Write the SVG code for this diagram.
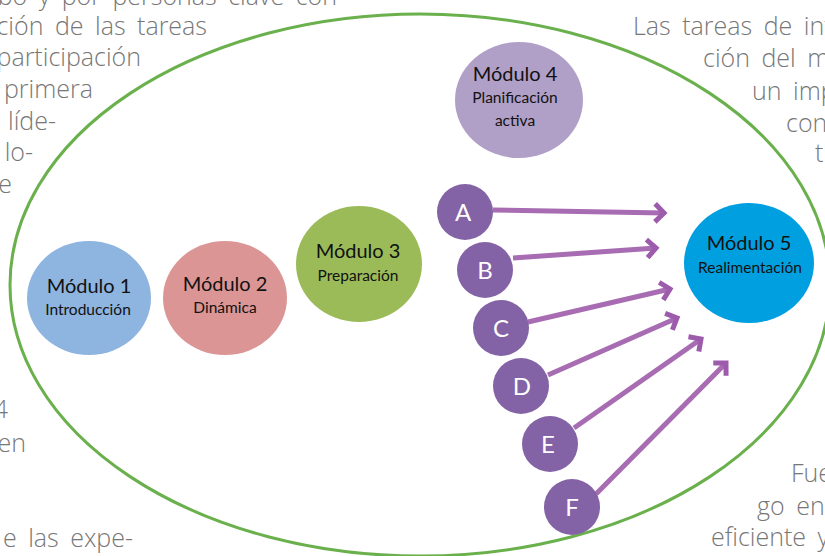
<svg xmlns="http://www.w3.org/2000/svg" width="825" height="556" viewBox="0 0 825 556">
<defs>
<style>
.bg{font-family:"Open Sans","Liberation Sans",sans-serif;font-weight:300;font-size:25px;fill:#777777;word-spacing:5px}
.t1{font-family:Lato,"Noto Sans",sans-serif;font-size:20px;fill:#111;text-anchor:middle}
.t2{font-family:Lato,"Noto Sans",sans-serif;font-size:15.5px;fill:#111;text-anchor:middle}
.lt{font-family:Lato,"Noto Sans",sans-serif;font-size:24px;fill:#fff;text-anchor:middle}
.let{fill:#8462a6}
.con{stroke:#a86cb2;stroke-width:5;fill:none;marker-end:url(#chev)}
</style>
<marker id="chev" markerUnits="userSpaceOnUse" viewBox="-14 -12 24 24" markerWidth="24" markerHeight="24" refX="0" refY="0" orient="auto">
<path d="M-9,-9 L0,0 L-9,9" fill="none" stroke="#9c5cab" stroke-width="5"/>
</marker>
</defs>
<rect width="825" height="556" fill="#ffffff"/>
<g id="background-text" class="bg">
<text x="337" y="5" text-anchor="end">bo y por personas clave con</text>
<text x="207" y="35" text-anchor="end">ción de las tareas</text>
<text x="141" y="66" text-anchor="end">participación</text>
<text x="93" y="98" text-anchor="end">primera</text>
<text x="56" y="130" text-anchor="end">líde-</text>
<text x="33" y="161" text-anchor="end">lo-</text>
<text x="12" y="193" text-anchor="end">e</text>
<text x="8" y="418" text-anchor="end">4</text>
<text x="26" y="452" text-anchor="end">en</text>
<text x="133" y="547" text-anchor="end">e las expe-</text>
<text x="633" y="35">Las tareas de int</text>
<text x="703" y="67">ción del m</text>
<text x="752" y="100">un imp</text>
<text x="786" y="132">con</text>
<text x="815" y="162">t</text>
<text x="791" y="482">Fue</text>
<text x="757" y="515">go en</text>
<text x="711" y="546">eficiente y</text>
</g>
<g id="frame">
<ellipse cx="420" cy="285" rx="410" ry="271" fill="none" stroke="#6ab04c" stroke-width="3"/>
</g>
<g id="connectors">
<line class="con" x1="493" y1="210" x2="664" y2="213"/>
<line class="con" x1="513" y1="258" x2="656" y2="248"/>
<line class="con" x1="528" y1="322" x2="670" y2="289"/>
<line class="con" x1="548" y1="375" x2="677" y2="318"/>
<line class="con" x1="574" y1="428" x2="701" y2="339"/>
<line class="con" x1="596" y1="494" x2="726" y2="363"/>
</g>
<g id="modulo1">
<ellipse cx="89" cy="298" rx="62" ry="57" fill="#8eb4e0"/>
<text class="t1" x="89" y="293">Módulo 1</text>
<text class="t2" x="88" y="315">Introducción</text>
</g>
<g id="modulo2">
<ellipse cx="225" cy="298" rx="62" ry="57" fill="#dc9595"/>
<text class="t1" x="225" y="291">Módulo 2</text>
<text class="t2" x="225" y="313">Dinámica</text>
</g>
<g id="modulo3">
<ellipse cx="359" cy="264" rx="63" ry="58" fill="#9bbb59"/>
<text class="t1" x="358" y="258">Módulo 3</text>
<text class="t2" x="358" y="281">Preparación</text>
</g>
<g id="modulo4">
<ellipse cx="519" cy="100" rx="64" ry="58" fill="#b09fc7"/>
<text class="t1" x="515" y="81">Módulo 4</text>
<text class="t2" x="515" y="103">Planificación</text>
<text class="t2" x="515" y="126">activa</text>
</g>
<g id="modulo5">
<ellipse cx="749" cy="263" rx="65" ry="60" fill="#009fe0"/>
<text class="t1" x="749" y="250">Módulo 5</text>
<text class="t2" x="750" y="273">Realimentación</text>
</g>
<g id="nodeA"><circle class="let" cx="465" cy="212" r="28"/><text class="lt" x="463" y="221">A</text></g>
<g id="nodeB"><circle class="let" cx="485" cy="270" r="28"/><text class="lt" x="485" y="279">B</text></g>
<g id="nodeC"><circle class="let" cx="501" cy="328" r="28"/><text class="lt" x="501" y="337">C</text></g>
<g id="nodeD"><circle class="let" cx="521" cy="386" r="28"/><text class="lt" x="522" y="395">D</text></g>
<g id="nodeE"><circle class="let" cx="550" cy="444" r="28"/><text class="lt" x="548" y="453">E</text></g>
<g id="nodeF"><circle class="let" cx="572" cy="507" r="28"/><text class="lt" x="572" y="516">F</text></g>
</svg>
